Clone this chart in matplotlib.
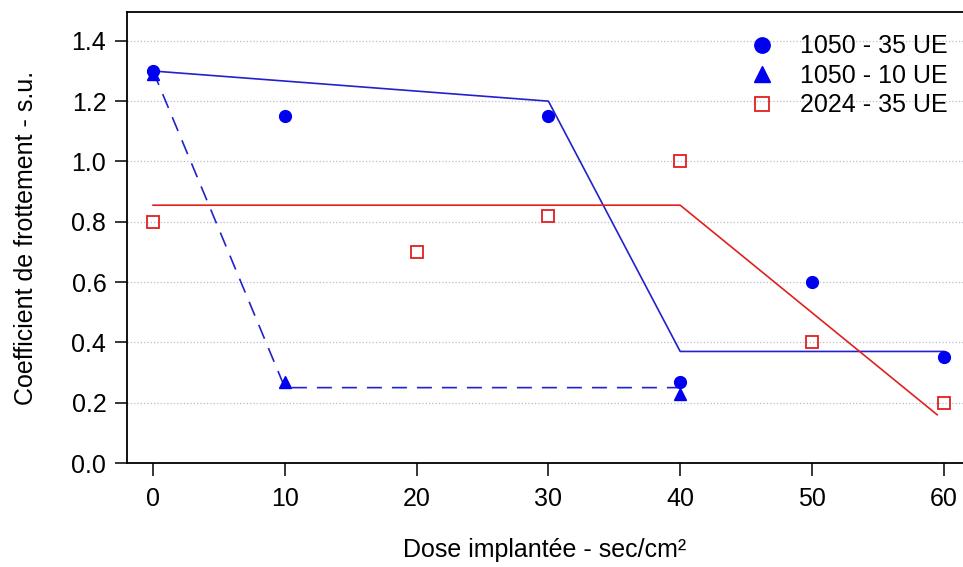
import matplotlib
matplotlib.use("Agg")
import matplotlib.pyplot as plt

plt.rcParams["font.family"] = ["Liberation Sans", "DejaVu Sans"]

# measured points
dose_35 = [0, 10, 30, 40, 50, 60]
coef_1050_35 = [1.30, 1.15, 1.15, 0.27, 0.60, 0.35]

dose_10 = [0, 10, 40]
coef_1050_10 = [1.29, 0.27, 0.23]

dose_2024 = [0, 20, 30, 40, 50, 60]
coef_2024_35 = [0.80, 0.70, 0.82, 1.00, 0.40, 0.20]

# trend lines
trend_1050_35_x = [0, 30, 40, 60]
trend_1050_35_y = [1.30, 1.20, 0.37, 0.37]
trend_1050_10_x = [0, 10, 40]
trend_1050_10_y = [1.30, 0.25, 0.25]
trend_2024_x = [0, 40, 59.5]
trend_2024_y = [0.855, 0.855, 0.16]

BLUE = "#0000f0"
BLUE_LINE = "#2222cc"
RED = "#e02020"

fig = plt.figure(figsize=(9.63, 5.67), dpi=100)
ax = fig.add_axes([0.132, 0.1834, 0.868, 0.7956])

ax.plot(trend_1050_35_x, trend_1050_35_y, color=BLUE_LINE, lw=1.2)
ax.plot(trend_1050_10_x, trend_1050_10_y, color=BLUE_LINE, lw=1.2,
        dashes=(9, 6))
ax.plot(trend_2024_x, trend_2024_y, color=RED, lw=1.2)

ax.plot(dose_10, coef_1050_10, "^", color=BLUE, ms=8.5, ls="none",
        label="1050 - 10 UE")
ax.plot(dose_35, coef_1050_35, "o", color=BLUE, ms=8.5, ls="none",
        label="1050 - 35 UE")
ax.plot(dose_2024, coef_2024_35, "s", mfc="none", mec=RED, mew=1.3, ms=8,
        ls="none", label="2024 - 35 UE")

ax.set_xlim(-1.97, 61.46)
ax.set_ylim(0, 1.496)
ax.set_xticks([0, 10, 20, 30, 40, 50, 60])
ax.set_yticks([0.0, 0.2, 0.4, 0.6, 0.8, 1.0, 1.2, 1.4])
ax.yaxis.set_major_formatter(matplotlib.ticker.FormatStrFormatter("%.1f"))
ax.tick_params(direction="out", length=9, width=1.1, labelsize=18)
ax.tick_params(axis="x", pad=8)
ax.tick_params(axis="y", pad=6)
ax.grid(axis="y", color="#b8bccc", linestyle=":", linewidth=0.9)
ax.set_axisbelow(True)
for side in ["left", "bottom", "top"]:
    ax.spines[side].set_linewidth(1.3)
ax.spines["right"].set_visible(False)

ax.set_xlabel("Dose implantée - sec/cm²", fontsize=18, labelpad=20)
ax.set_ylabel("Coefficient de frottement - s.u.", fontsize=18, labelpad=24)

handles, labels = ax.get_legend_handles_labels()
order = [1, 0, 2]
ax.legend([handles[i] for i in order], [labels[i] for i in order],
          loc="upper right", frameon=False, fontsize=18, markerscale=1.3,
          handlelength=1.2, handletextpad=0.9, labelspacing=0.22,
          borderaxespad=0.5, bbox_to_anchor=(1.008, 1.0))

fig.savefig("out.png", dpi=100)
